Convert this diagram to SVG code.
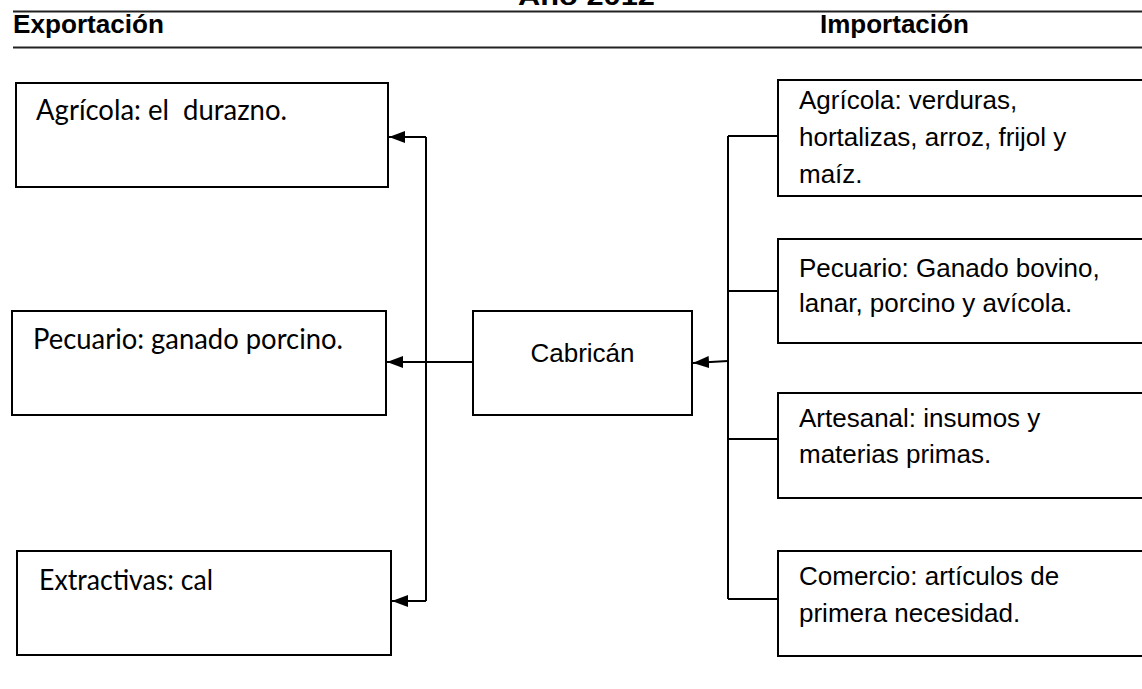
<svg xmlns="http://www.w3.org/2000/svg" width="1142" height="689" viewBox="0 0 1142 689">
<defs>
<style>
.box{fill:#fff;stroke:#000;stroke-width:2}
.ln{fill:none;stroke:#000;stroke-width:2}
.hd{fill:none;stroke:#222;stroke-width:2.2}
.cal{font-family:Lato,"Open Sans",sans-serif;font-size:29px;fill:#000}
.ar{font-family:"Liberation Sans",Arial,sans-serif;font-size:26px;fill:#000}
.hb{font-family:"Liberation Sans",Arial,sans-serif;font-size:26px;font-weight:bold;fill:#000}
</style>
<marker id="ah" viewBox="0 0 16 12" refX="16" refY="6" markerWidth="16" markerHeight="12" markerUnits="userSpaceOnUse" orient="auto">
<path d="M0,0 L16,6 L0,12 z" fill="#000"/>
</marker>
</defs>
<rect width="1142" height="689" fill="#fff"/>
<g id="header">
<text class="hb" x="518" y="5" textLength="137" lengthAdjust="spacingAndGlyphs" font-size="28">Año 2012</text>
<line class="hd" x1="13" y1="11.5" x2="1142" y2="11.5"/>
<text class="hb" x="13" y="33" textLength="151" lengthAdjust="spacingAndGlyphs">Exportación</text>
<text class="hb" x="820" y="33">Importación</text>
<line class="hd" x1="13" y1="47.5" x2="1142" y2="47.5"/>
</g>
<g id="connectors">
<line class="ln" x1="426" y1="137" x2="426" y2="601"/>
<line class="ln" x1="426" y1="137" x2="389" y2="137" marker-end="url(#ah)"/>
<line class="ln" x1="473" y1="362" x2="387" y2="362" marker-end="url(#ah)"/>
<line class="ln" x1="426" y1="601" x2="392" y2="601" marker-end="url(#ah)"/>
<line class="ln" x1="728" y1="136" x2="728" y2="599"/>
<line class="ln" x1="728" y1="136" x2="778" y2="136"/>
<line class="ln" x1="728" y1="291" x2="778" y2="291"/>
<line class="ln" x1="728" y1="439" x2="778" y2="439"/>
<line class="ln" x1="728" y1="599" x2="778" y2="599"/>
<line class="ln" x1="728" y1="361" x2="693" y2="363" marker-end="url(#ah)"/>
</g>
<g id="exp-agricola">
<rect class="box" x="16" y="83" width="372" height="104"/>
<text class="cal" x="36" y="120" textLength="251" lengthAdjust="spacingAndGlyphs" xml:space="preserve">Agrícola: el  durazno.</text>
</g>
<g id="exp-pecuario">
<rect class="box" x="12" y="311" width="374" height="104"/>
<text class="cal" x="33" y="349" textLength="310" lengthAdjust="spacingAndGlyphs">Pecuario: ganado porcino.</text>
</g>
<g id="exp-extractivas">
<rect class="box" x="17" y="551" width="374" height="104"/>
<text class="cal" x="39" y="590" textLength="174" lengthAdjust="spacingAndGlyphs">Extractivas: cal</text>
</g>
<g id="cabrican">
<rect class="box" x="473" y="311" width="219" height="104"/>
<text class="ar" x="582.5" y="362" text-anchor="middle">Cabricán</text>
</g>
<g id="imp-agricola">
<rect class="box" x="778" y="80" width="380" height="116"/>
<text class="ar" x="799" y="109">Agrícola: verduras,</text>
<text class="ar" x="799" y="146">hortalizas, arroz, frijol y</text>
<text class="ar" x="799" y="183">maíz.</text>
</g>
<g id="imp-pecuario">
<rect class="box" x="778" y="239" width="380" height="104"/>
<text class="ar" x="799" y="277">Pecuario: Ganado bovino,</text>
<text class="ar" x="799" y="312">lanar, porcino y avícola.</text>
</g>
<g id="imp-artesanal">
<rect class="box" x="778" y="393" width="380" height="105"/>
<text class="ar" x="799" y="427">Artesanal: insumos y</text>
<text class="ar" x="799" y="463">materias primas.</text>
</g>
<g id="imp-comercio">
<rect class="box" x="778" y="551" width="380" height="105"/>
<text class="ar" x="799" y="585">Comercio: artículos de</text>
<text class="ar" x="799" y="622">primera necesidad.</text>
</g>
</svg>
